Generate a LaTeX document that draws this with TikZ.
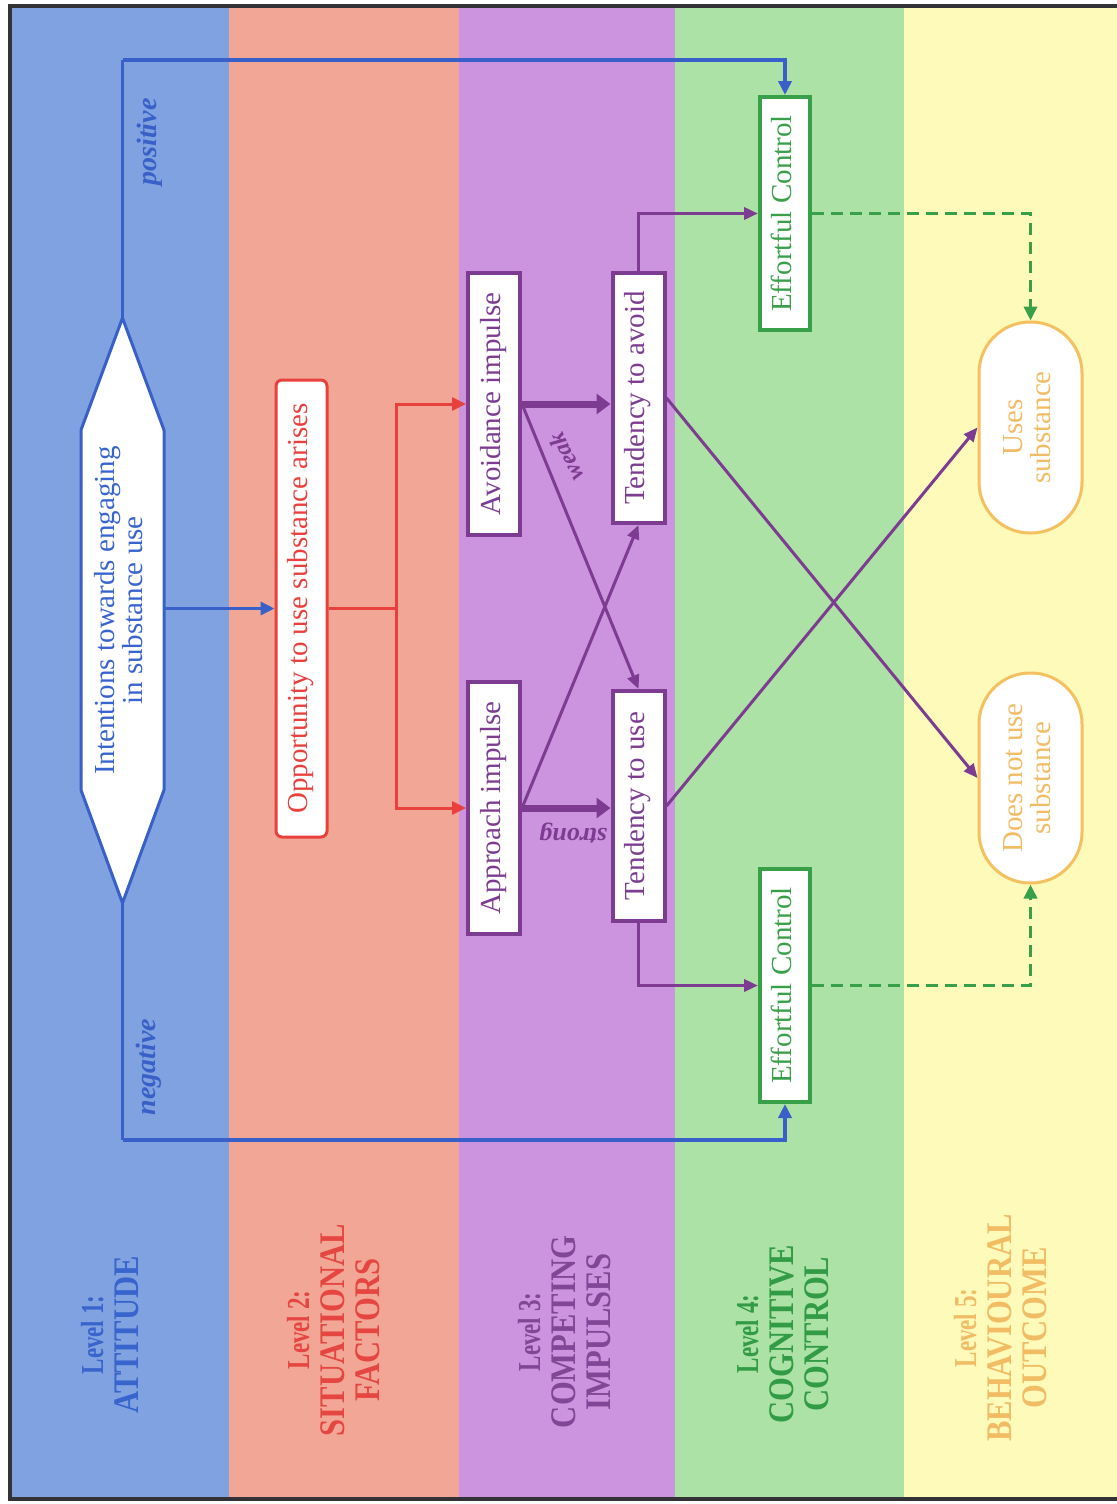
\documentclass[tikz,border=0pt]{standalone}
\usepackage{fontspec}
\setmainfont{Liberation Serif}
\usepackage{graphicx}
\usetikzlibrary{arrows.meta,calc}
\definecolor{bandblue}{RGB}{128,162,224}
\definecolor{bandred}{RGB}{241,166,150}
\definecolor{bandpurple}{RGB}{204,148,222}
\definecolor{bandgreen}{RGB}{172,226,165}
\definecolor{bandyellow}{RGB}{254,250,186}
\definecolor{lblue}{RGB}{56,96,200}
\definecolor{lred}{RGB}{232,64,60}
\definecolor{lpurple}{RGB}{125,60,145}
\definecolor{lgreen}{RGB}{56,160,72}
\definecolor{lorange}{RGB}{245,192,95}
\definecolor{torange}{RGB}{242,188,100}
\definecolor{tblue}{RGB}{56,100,205}
\definecolor{tred}{RGB}{230,70,65}
\definecolor{tpurple}{RGB}{130,70,150}
\definecolor{tgreen}{RGB}{50,155,70}
\definecolor{frame}{RGB}{50,50,55}
\newcommand{\rt}[1]{\rotatebox{90}{\begin{tabular}{@{}c@{}}#1\end{tabular}}}
\newcommand{\lvsm}[1]{\scalebox{0.72}[1]{\fontsize{32}{35}\selectfont\bfseries #1}}
\newcommand{\lvbg}[1]{\scalebox{0.85}[1]{\fontsize{36}{35}\selectfont\bfseries #1}}
\begin{document}
\begin{tikzpicture}[x=1pt,y=-1pt,
  boxtext/.style={font=\fontsize{29}{26}\selectfont, inner sep=0pt, align=center},
  pbox/.style={boxtext, draw=lpurple, line width=4pt, fill=white, text=lpurple, minimum width=52pt},
  gbox/.style={boxtext, draw=lgreen, line width=4pt, fill=white, text=lgreen, minimum width=50pt, minimum height=233pt},
  obox/.style={boxtext, draw=lorange, line width=3pt, fill=white, text=torange, minimum width=103pt, rounded corners=51pt},
  lvl/.style={font=\fontsize{36}{35}\selectfont, inner sep=0pt},
  tag/.style={font=\fontsize{28}{30}\selectfont\bfseries\itshape, inner sep=0pt},
  blarr/.style={draw=lblue, line width=3.5pt, -{Triangle[length=14pt,width=13pt]}},
  blline/.style={draw=lblue, line width=3.5pt},
  rdarr/.style={draw=lred, line width=3pt, -{Triangle[length=14pt,width=13pt]}},
  pparr/.style={draw=lpurple, line width=3pt, -{Triangle[length=14pt,width=12pt]}},
  ppthick/.style={draw=lpurple, line width=7pt, -{Triangle[length=14pt,width=20pt]}},
  grarr/.style={draw=lgreen, line width=3.5pt, dash pattern=on 12pt off 7pt, -{Triangle[length=14pt,width=13pt]}}
]
\useasboundingbox (0,0) rectangle (1116,1504);
\fill[white] (0,0) rectangle (1116,1504);
% bands
\fill[bandblue] (12,8) rectangle (229,1497);
\fill[bandred] (229,8) rectangle (459,1497);
\fill[bandpurple] (459,8) rectangle (675,1497);
\fill[bandgreen] (675,8) rectangle (904,1497);
\fill[bandyellow] (904,8) rectangle (1130,1497);
\draw[frame, line width=4pt] (1130,6) -- (10,6) -- (10,1499) -- (1130,1499);

% hexagon (Level 1)
\coordinate (hc) at (122.5,610.5);
\draw[lblue, line width=3pt, fill=white, line join=miter]
  ($(hc)+(0,-292.5)$) -- ($(hc)+(41.5,-180.5)$) -- ($(hc)+(41.5,179.5)$) --
  ($(hc)+(0,292.5)$) -- ($(hc)+(-41.5,179.5)$) -- ($(hc)+(-41.5,-180.5)$) -- cycle;
\node[boxtext, text=tblue, minimum width=83pt, minimum height=585pt] (int) at (hc)
  {\rt{Intentions towards engaging\\in substance use}};

% Level 2
\node[boxtext, draw=lred, line width=3pt, fill=white, text=lred, rounded corners=6pt,
  minimum width=51pt, minimum height=457pt] (opp) at (301.5,608.5)
  {\rt{Opportunity to use substance arises}};

% Level 3
\node[pbox, minimum height=262pt] (avi) at (494,404) {\rt{Avoidance impulse}};
\node[pbox, minimum height=252pt] (api) at (494,808) {\rt{Approach impulse}};
\node[pbox, minimum height=250pt] (tav) at (638.5,398) {\rt{Tendency to avoid}};
\node[pbox, minimum height=230pt] (tus) at (638.5,806) {\rt{Tendency to use}};

% Level 4
\node[gbox] (ec1) at (785,213.5) {\rt{Effortful Control}};
\node[gbox] (ec2) at (785,985.5) {\rt{Effortful Control}};

% Level 5
\node[obox, minimum height=211pt] (uses) at (1030.5,427.5) {\rt{Uses\\substance}};
\node[obox, minimum height=210pt] (dnu) at (1030.5,778) {\rt{Does not use\\substance}};

% blue connectors
\coordinate (topc) at (122.5,60);
\coordinate (botc) at (122.5,1140);
\draw[blline] (int.north) -- (topc);
\draw[blarr] (topc) -| (ec1.north);
\draw[blline] (int.south) -- (botc);
\draw[blarr] (botc) -| (ec2.south);
\draw[blarr] (int.east |- opp.west) -- (opp.west);
\node[tag, text=lblue] (pos) at (150,142) {\rotatebox{90}{positive}};
\node[tag, text=lblue] (neg) at (149,1067) {\rotatebox{90}{negative}};

% red connectors
\coordinate (rj) at (396,608.5);
\draw[lred, line width=3pt] (opp.east) -- (rj);
\draw[rdarr] (rj) |- (avi.west);
\draw[rdarr] (rj) |- (api.west);

% purple connectors
\draw[ppthick] (avi.east) -- (tav.west |- avi.east);
\draw[ppthick] (api.east) -- (tus.west |- api.east);
\draw[pparr] (avi.east) -- (tus.north);
\draw[pparr] (api.east) -- (tav.south);
\node[tag, text=lpurple, font=\fontsize{24}{26}\selectfont\bfseries\itshape] (weak) at (566,457) {\rotatebox{116}{weak}};
\node[tag, text=lpurple, font=\fontsize{26}{27}\selectfont\bfseries\itshape] (strong) at (573,833) {\rotatebox{180}{strong}};
\draw[pparr] (tav.east) -- (dnu.west);
\draw[pparr] (tus.east) -- (uses.west);
\draw[pparr, line width=3.5pt] (tav.north) |- (ec1.west);
\draw[pparr, line width=3.5pt] (tus.south) |- (ec2.west);

% green dashed
\draw[grarr] (ec1.east) -| (uses.north);
\draw[grarr] (ec2.east) -| (dnu.south);

% level labels
\node[lvl, text=tblue] (lv1) at (113.5,1335) {\rotatebox{90}{\begin{tabular}{@{}c@{}}\lvsm{Level 1:}\\\lvbg{ATTITUDE}\end{tabular}}};
\node[lvl, text=tred] (lv2) at (337,1330) {\rotatebox{90}{\begin{tabular}{@{}c@{}}\lvsm{Level 2:}\\\lvbg{SITUATIONAL}\\\lvbg{FACTORS}\end{tabular}}};
\node[lvl, text=tpurple] (lv3) at (568,1332) {\rotatebox{90}{\begin{tabular}{@{}c@{}}\lvsm{Level 3:}\\\lvbg{COMPETING}\\\lvbg{IMPULSES}\end{tabular}}};
\node[lvl, text=tgreen] (lv4) at (786,1334) {\rotatebox{90}{\begin{tabular}{@{}c@{}}\lvsm{Level 4:}\\\lvbg{COGNITIVE}\\\lvbg{CONTROL}\end{tabular}}};
\node[lvl, text=torange] (lv5) at (1004,1328) {\rotatebox{90}{\begin{tabular}{@{}c@{}}\lvsm{Level 5:}\\\lvbg{BEHAVIOURAL}\\\lvbg{OUTCOME}\end{tabular}}};
\end{tikzpicture}
\end{document}
